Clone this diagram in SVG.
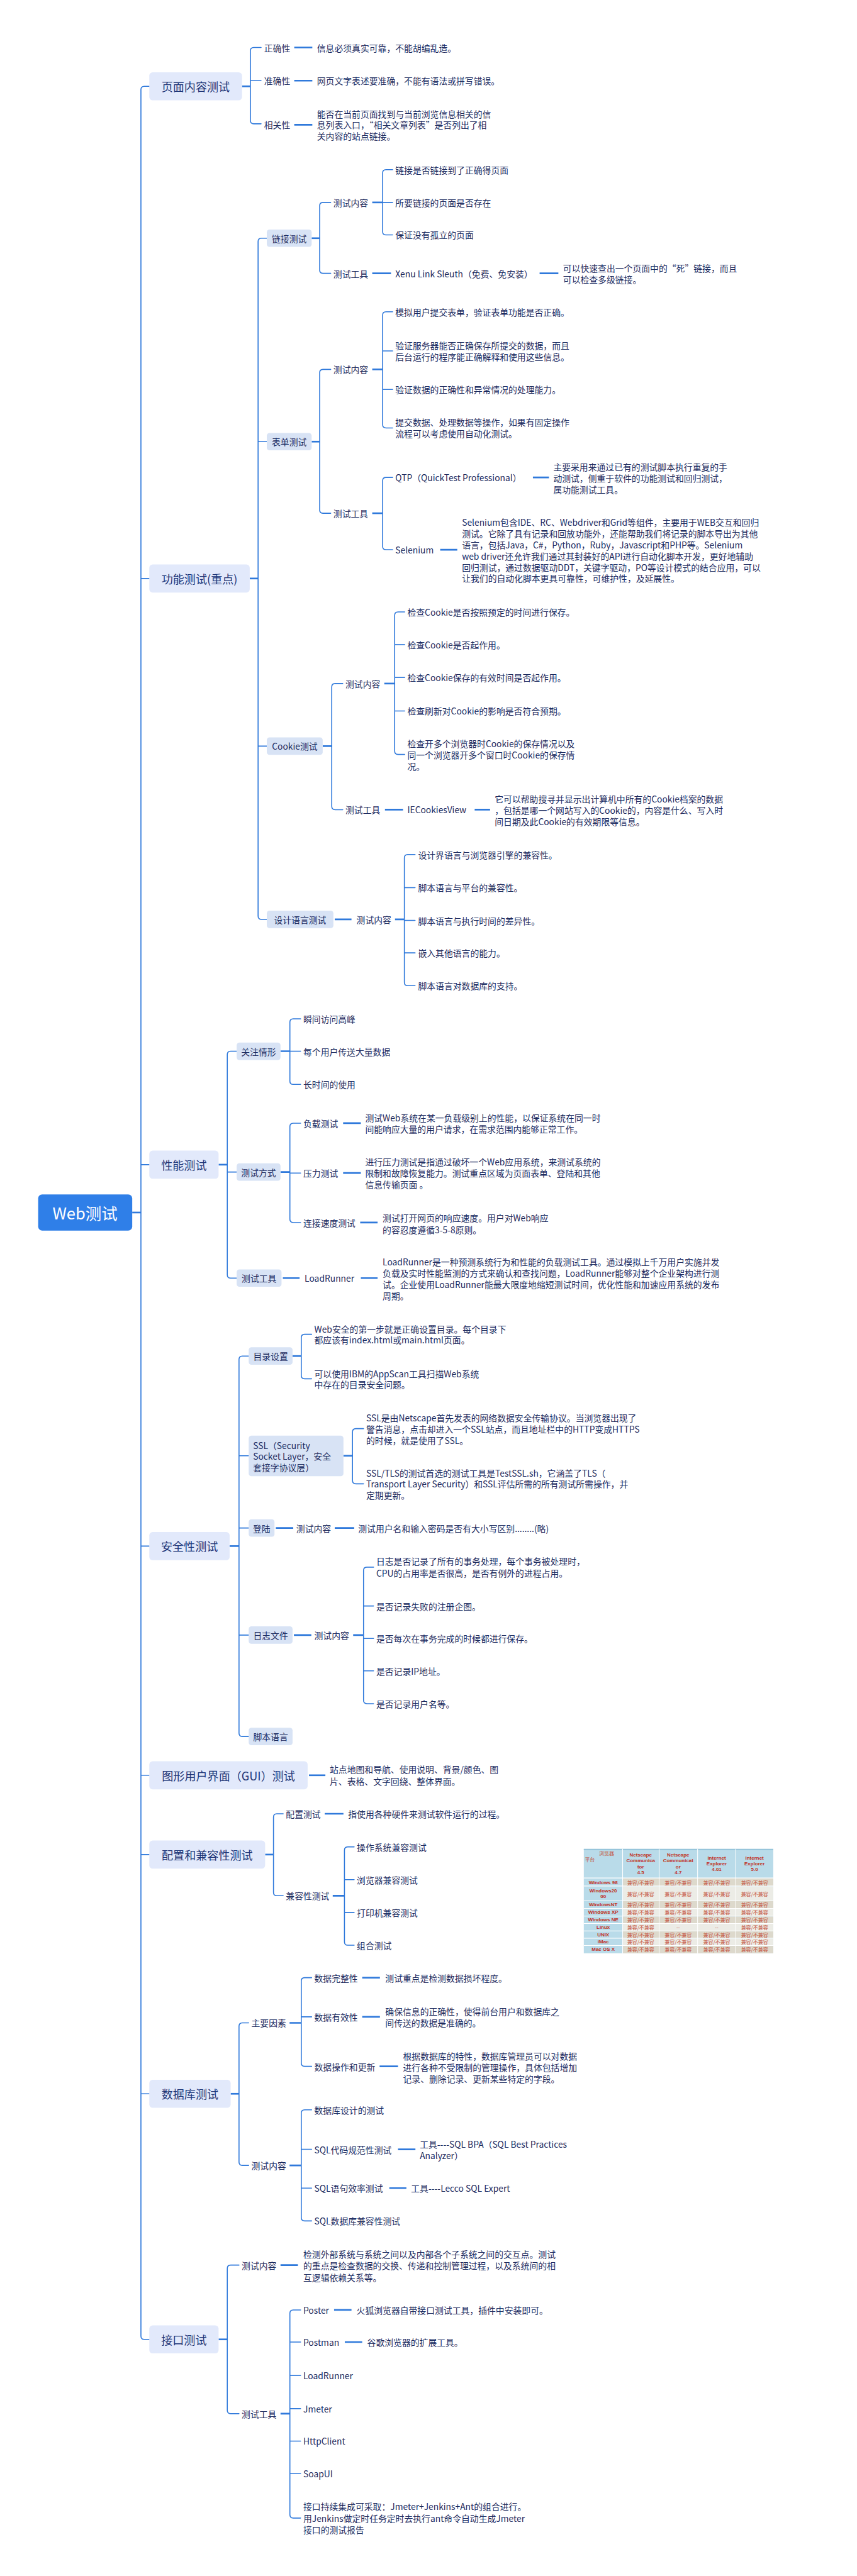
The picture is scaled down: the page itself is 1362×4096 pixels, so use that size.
<svg xmlns="http://www.w3.org/2000/svg" width="1362" height="4096" viewBox="0 0 1362 4096">
<style>
.ln{fill:none;stroke:#2f79db;stroke-width:3;stroke-linecap:round}
.st{fill:none;stroke:#2f79db;stroke-width:5}
.t{font-family:"Noto Sans CJK SC","Noto Sans",sans-serif;font-size:26px;fill:#1b2a5e;dominant-baseline:central}
.t1{font-family:"Noto Sans CJK SC","Noto Sans",sans-serif;font-size:34px;fill:#1d3577;dominant-baseline:central;text-anchor:middle}
.t2{font-family:"Noto Sans CJK SC","Noto Sans",sans-serif;font-size:26px;fill:#1b2a5e;dominant-baseline:central;text-anchor:middle}
.b1{fill:#e2e9fb}
.b2{fill:#d8e3f5}
.tb{font-family:"Liberation Sans","Noto Sans CJK SC",sans-serif;font-size:15px;font-weight:bold;fill:#c0301e;text-anchor:middle;dominant-baseline:central}
.tc{font-family:"Noto Sans CJK SC",sans-serif;font-size:15px;fill:#c4503a;text-anchor:middle;dominant-baseline:central}
</style>
<rect width="1362" height="4096" fill="#ffffff"/>
<g transform="scale(0.532)">
<g id="connectors">
<path class="st" d="M395,3624 H421"/>
<path class="ln" d="M421,268 V6982 M421,268 Q421,258 431,258 H446 M421,1729 H446 M421,3481 H446 M421,4621 H446 M421,5306 H446 M421,5543 H446 M421,6258 H446 M421,6982 Q421,6992 431,6992 H446"/>
<!-- page content -->
<path class="st" d="M723,258 H748"/>
<path class="ln" d="M748,152 V360 M748,152 Q748,142 758,142 H780 M748,241 H780 M748,360 Q748,370 758,370 H780"/>
<path class="st" d="M879,142 H933 M879,241 H933 M879,373 H933"/>
<!-- function -->
<path class="st" d="M746,1729 H771"/>
<path class="ln" d="M771,722 V2738 M771,722 Q771,712 781,712 H797 M771,1320 H797 M771,2230 H797 M771,2738 Q771,2748 781,2748 H797"/>
<path class="st" d="M931,712 H955"/>
<path class="ln" d="M955,615 V807 M955,615 Q955,605 965,605 H988 M955,807 Q955,817 965,817 H988"/>
<path class="st" d="M1112,605 H1143"/>
<path class="ln" d="M1143,517 V692 M1143,517 Q1143,507 1153,507 H1173 M1143,605 H1173 M1143,692 Q1143,702 1153,702 H1173"/>
<path class="st" d="M1112,817 H1168 M1612,817 H1668"/>
<path class="st" d="M931,1320 H955"/>
<path class="ln" d="M955,1114 V1524 M955,1114 Q955,1104 965,1104 H988 M955,1524 Q955,1534 965,1534 H988"/>
<path class="st" d="M1112,1104 H1143"/>
<path class="ln" d="M1143,942 V1269 M1143,942 Q1143,932 1153,932 H1173 M1143,1049 H1173 M1143,1164 H1173 M1143,1269 Q1143,1279 1153,1279 H1173"/>
<path class="st" d="M1112,1534 H1143"/>
<path class="ln" d="M1143,1437 V1633 M1143,1437 Q1143,1427 1153,1427 H1173 M1143,1633 Q1143,1643 1153,1643 H1173"/>
<path class="st" d="M1592,1427 H1640 M1315,1643 H1366"/>
<path class="st" d="M964,2230 H991"/>
<path class="ln" d="M991,2053 V2410 M991,2053 Q991,2043 1001,2043 H1024 M991,2410 Q991,2420 1001,2420 H1024"/>
<path class="st" d="M1148,2043 H1179"/>
<path class="ln" d="M1179,1839 V2245 M1179,1839 Q1179,1829 1189,1829 H1209 M1179,1927 H1209 M1179,2025 H1209 M1179,2125 H1209 M1179,2245 Q1179,2255 1189,2255 H1209"/>
<path class="st" d="M1150,2420 H1204 M1418,2420 H1464"/>
<path class="st" d="M1000,2748 H1050 M1180,2748 H1208"/>
<path class="ln" d="M1208,2564 V2936 M1208,2564 Q1208,2554 1218,2554 H1240 M1208,2653 H1240 M1208,2751 H1240 M1208,2848 H1240 M1208,2936 Q1208,2946 1218,2946 H1240"/>
<!-- performance -->
<path class="st" d="M653,3481 H679"/>
<path class="ln" d="M679,3152 V3810 M679,3152 Q679,3142 689,3142 H707 M679,3503 H707 M679,3810 Q679,3820 689,3820 H707"/>
<path class="st" d="M838,3142 H866 M838,3503 H866"/>
<path class="ln" d="M866,3055 V3231 M866,3055 Q866,3045 876,3045 H898 M866,3142 H898 M866,3231 Q866,3241 876,3241 H898"/>
<path class="ln" d="M866,3367 V3644 M866,3367 Q866,3357 876,3357 H898 M866,3506 H898 M866,3644 Q866,3654 876,3654 H898"/>
<path class="st" d="M1025,3357 H1078 M1025,3506 H1078 M1076,3654 H1128"/>
<path class="st" d="M845,3820 H895 M1078,3820 H1128"/>
<!-- security -->
<path class="st" d="M686,4621 H714"/>
<path class="ln" d="M714,4063 V5180 M714,4063 Q714,4053 724,4053 H743 M714,4351 H743 M714,4567 H743 M714,4887 H743 M714,5180 Q714,5190 724,5190 H743"/>
<path class="st" d="M874,4053 H900"/>
<path class="ln" d="M900,3998 V4111 M900,3998 Q900,3988 910,3988 H931 M900,4111 Q900,4121 910,4121 H931"/>
<path class="st" d="M1026,4351 H1053"/>
<path class="ln" d="M1053,4280 V4425 M1053,4280 Q1053,4270 1063,4270 H1086 M1053,4425 Q1053,4435 1063,4435 H1086"/>
<path class="st" d="M824,4567 H876 M1000,4567 H1058"/>
<path class="st" d="M878,4887 H930 M1055,4887 H1086"/>
<path class="ln" d="M1086,4694 V5082 M1086,4694 Q1086,4684 1096,4684 H1116 M1086,4800 H1116 M1086,4897 H1116 M1086,4994 H1116 M1086,5082 Q1086,5092 1096,5092 H1116"/>
<!-- GUI -->
<path class="st" d="M923,5306 H972"/>
<!-- config -->
<path class="st" d="M792,5543 H817"/>
<path class="ln" d="M817,5431 V5656 M817,5431 Q817,5421 827,5421 H846 M817,5656 Q817,5666 827,5666 H846"/>
<path class="st" d="M970,5421 H1026 M994,5666 H1029"/>
<path class="ln" d="M1029,5530 V5804 M1029,5530 Q1029,5520 1039,5520 H1058 M1029,5618 H1058 M1029,5716 H1058 M1029,5804 Q1029,5814 1039,5814 H1058"/>
<!-- database -->
<path class="st" d="M689,6258 H714"/>
<path class="ln" d="M714,6056 V6462 M714,6056 Q714,6046 724,6046 H743 M714,6462 Q714,6472 724,6472 H743"/>
<path class="st" d="M865,6046 H900 M865,6472 H900"/>
<path class="ln" d="M900,5921 V6166 M900,5921 Q900,5911 910,5911 H931 M900,6028 H931 M900,6166 Q900,6176 910,6176 H931"/>
<path class="st" d="M1082,5911 H1135 M1082,6028 H1135 M1134,6176 H1189"/>
<path class="ln" d="M900,6316 V6628 M900,6316 Q900,6306 910,6306 H931 M900,6424 H931 M900,6540 H931 M900,6628 Q900,6638 910,6638 H931"/>
<path class="st" d="M1189,6424 H1241 M1163,6540 H1214"/>
<!-- interface -->
<path class="st" d="M653,6992 H679"/>
<path class="ln" d="M679,6780 V7204 M679,6780 Q679,6770 689,6770 H714 M679,7204 Q679,7214 689,7214 H714"/>
<path class="st" d="M838,6770 H890 M838,7214 H866"/>
<path class="ln" d="M866,6914 V7516 M866,6914 Q866,6904 876,6904 H898 M866,7000 H898 M866,7100 H898 M866,7199 H898 M866,7296 H898 M866,7393 H898 M866,7516 Q866,7526 876,7526 H898"/>
<path class="st" d="M998,6904 H1050 M1030,7000 H1082"/>
</g>

<g id="root"><rect x="114" y="3570" width="281" height="108" rx="12" fill="#2f7fe8"/><text x="254" y="3624" font-family="Noto Sans CJK SC,sans-serif" font-size="48" fill="#ffffff" text-anchor="middle" dominant-baseline="central">Web测试</text></g>

<!-- 页面内容测试 -->
<g id="n-page"><rect class="b1" x="446" y="216" width="277" height="84" rx="10"/><text class="t1" x="584.5" y="258">页面内容测试</text></g>
<g id="n-page-1"><text class="t" x="789" y="142">正确性</text><text class="t" x="947" y="142">信息必须真实可靠，不能胡编乱造。</text></g>
<g id="n-page-2"><text class="t" x="789" y="241">准确性</text><text class="t" x="947" y="241">网页文字表述要准确，不能有语法或拼写错误。</text></g>
<g id="n-page-3"><text class="t" x="789" y="373">相关性</text><text class="t" x="947" y="340">能否在当前页面找到与当前浏览信息相关的信</text><text class="t" x="947" y="373">息列表入口，“相关文章列表”是否列出了相</text><text class="t" x="947" y="406">关内容的站点链接。</text></g>

<!-- 功能测试 -->
<g id="n-func"><rect class="b1" x="446" y="1687" width="300" height="84" rx="10"/><text class="t1" x="596" y="1729">功能测试(重点)</text></g>
<g id="n-link"><rect class="b2" x="797" y="686" width="134" height="52" rx="8"/><text class="t2" x="864" y="712">链接测试</text></g>
<g id="n-link-c"><text class="t" x="996" y="605">测试内容</text>
<text class="t" x="1181" y="507">链接是否链接到了正确得页面</text>
<text class="t" x="1181" y="605">所要链接的页面是否存在</text>
<text class="t" x="1181" y="702">保证没有孤立的页面</text></g>
<g id="n-link-t"><text class="t" x="996" y="817">测试工具</text>
<text class="t" x="1181" y="817">Xenu Link Sleuth（免费、免安装）</text>
<text class="t" x="1682" y="800">可以快速查出一个页面中的“死”链接，而且</text>
<text class="t" x="1682" y="834">可以检查多级链接。</text></g>

<g id="n-form"><rect class="b2" x="797" y="1294" width="134" height="52" rx="8"/><text class="t2" x="864" y="1320">表单测试</text></g>
<g id="n-form-c"><text class="t" x="996" y="1104">测试内容</text>
<text class="t" x="1181" y="932">模拟用户提交表单，验证表单功能是否正确。</text>
<text class="t" x="1181" y="1032">验证服务器能否正确保存所提交的数据，而且</text>
<text class="t" x="1181" y="1066">后台运行的程序能正确解释和使用这些信息。</text>
<text class="t" x="1181" y="1164">验证数据的正确性和异常情况的处理能力。</text>
<text class="t" x="1181" y="1262">提交数据、处理数据等操作，如果有固定操作</text>
<text class="t" x="1181" y="1296">流程可以考虑使用自动化测试。</text></g>
<g id="n-form-t"><text class="t" x="996" y="1534">测试工具</text>
<text class="t" x="1181" y="1427">QTP（QuickTest Professional）</text>
<text class="t" x="1653" y="1395">主要采用来通过已有的测试脚本执行重复的手</text>
<text class="t" x="1653" y="1429">动测试，侧重于软件的功能测试和回归测试，</text>
<text class="t" x="1653" y="1462">属功能测试工具。</text>
<text class="t" x="1181" y="1643">Selenium</text>
<text class="t" x="1380" y="1561">Selenium包含IDE、RC、Webdriver和Grid等组件，主要用于WEB交互和回归</text>
<text class="t" x="1380" y="1594">测试。它除了具有记录和回放功能外，还能帮助我们将记录的脚本导出为其他</text>
<text class="t" x="1380" y="1628">语言，包括Java，C#，Python，Ruby，Javascript和PHP等。Selenium</text>
<text class="t" x="1380" y="1661">web driver还允许我们通过其封装好的API进行自动化脚本开发，更好地辅助</text>
<text class="t" x="1380" y="1695">回归测试，通过数据驱动DDT，关键字驱动，PO等设计模式的结合应用，可以</text>
<text class="t" x="1380" y="1728">让我们的自动化脚本更具可靠性，可维护性，及延展性。</text></g>

<g id="n-cookie"><rect class="b2" x="797" y="2204" width="167" height="52" rx="8"/><text class="t2" x="880.5" y="2230">Cookie测试</text></g>
<g id="n-cookie-c"><text class="t" x="1032" y="2043">测试内容</text>
<text class="t" x="1217" y="1829">检查Cookie是否按照预定的时间进行保存。</text>
<text class="t" x="1217" y="1927">检查Cookie是否起作用。</text>
<text class="t" x="1217" y="2025">检查Cookie保存的有效时间是否起作用。</text>
<text class="t" x="1217" y="2125">检查刷新对Cookie的影响是否符合预期。</text>
<text class="t" x="1217" y="2221">检查开多个浏览器时Cookie的保存情况以及</text>
<text class="t" x="1217" y="2255">同一个浏览器开多个窗口时Cookie的保存情</text>
<text class="t" x="1217" y="2289">况。</text></g>
<g id="n-cookie-t"><text class="t" x="1032" y="2420">测试工具</text>
<text class="t" x="1217" y="2420">IECookiesView</text>
<text class="t" x="1478" y="2388">它可以帮助搜寻并显示出计算机中所有的Cookie档案的数据</text>
<text class="t" x="1478" y="2421">，包括是哪一个网站写入的Cookie的，内容是什么、写入时</text>
<text class="t" x="1478" y="2455">间日期及此Cookie的有效期限等信息。</text></g>

<g id="n-lang"><rect class="b2" x="797" y="2722" width="199" height="52" rx="8"/><text class="t2" x="896.5" y="2748">设计语言测试</text></g>
<g id="n-lang-c"><text class="t" x="1065" y="2748">测试内容</text>
<text class="t" x="1249" y="2554">设计界语言与浏览器引擎的兼容性。</text>
<text class="t" x="1249" y="2653">脚本语言与平台的兼容性。</text>
<text class="t" x="1249" y="2751">脚本语言与执行时间的差异性。</text>
<text class="t" x="1249" y="2848">嵌入其他语言的能力。</text>
<text class="t" x="1249" y="2946">脚本语言对数据库的支持。</text></g>

<!-- 性能测试 -->
<g id="n-perf"><rect class="b1" x="446" y="3439" width="207" height="84" rx="10"/><text class="t1" x="549.5" y="3481">性能测试</text></g>
<g id="n-focus"><rect class="b2" x="707" y="3116" width="131" height="52" rx="8"/><text class="t2" x="772.5" y="3142">关注情形</text>
<text class="t" x="906" y="3045">瞬间访问高峰</text>
<text class="t" x="906" y="3142">每个用户传送大量数据</text>
<text class="t" x="906" y="3241">长时间的使用</text></g>
<g id="n-mode"><rect class="b2" x="707" y="3477" width="131" height="52" rx="8"/><text class="t2" x="772.5" y="3503">测试方式</text>
<text class="t" x="906" y="3357">负载测试</text>
<text class="t" x="1091" y="3341">测试Web系统在某一负载级别上的性能，以保证系统在同一时</text>
<text class="t" x="1091" y="3374">间能响应大量的用户请求，在需求范围内能够正常工作。</text>
<text class="t" x="906" y="3506">压力测试</text>
<text class="t" x="1091" y="3472">进行压力测试是指通过破坏一个Web应用系统，来测试系统的</text>
<text class="t" x="1091" y="3506">限制和故障恢复能力。测试重点区域为页面表单、登陆和其他</text>
<text class="t" x="1091" y="3540">信息传输页面 。</text>
<text class="t" x="906" y="3654">连接速度测试</text>
<text class="t" x="1143" y="3639">测试打开网页的响应速度。用户对Web响应</text>
<text class="t" x="1143" y="3674">的容忍度遵循3-5-8原则。</text></g>
<g id="n-perf-tool"><rect class="b2" x="707" y="3794" width="134" height="52" rx="8"/><text class="t2" x="774" y="3820">测试工具</text>
<text class="t" x="910" y="3820">LoadRunner</text>
<text class="t" x="1143" y="3770">LoadRunner是一种预测系统行为和性能的负载测试工具。通过模拟上千万用户实施并发</text>
<text class="t" x="1143" y="3805">负载及实时性能监测的方式来确认和查找问题，LoadRunner能够对整个企业架构进行测</text>
<text class="t" x="1143" y="3839">试。企业使用LoadRunner能最大限度地缩短测试时间，优化性能和加速应用系统的发布</text>
<text class="t" x="1143" y="3873">周期。</text></g>

<!-- 安全性测试 -->
<g id="n-sec"><rect class="b1" x="446" y="4579" width="240" height="84" rx="10"/><text class="t1" x="566" y="4621">安全性测试</text></g>
<g id="n-dir"><rect class="b2" x="743" y="4027" width="131" height="52" rx="8"/><text class="t2" x="808.5" y="4053">目录设置</text>
<text class="t" x="939" y="3971">Web安全的第一步就是正确设置目录。每个目录下</text>
<text class="t" x="939" y="4004">都应该有index.html或main.html页面。</text>
<text class="t" x="939" y="4105">可以使用IBM的AppScan工具扫描Web系统</text>
<text class="t" x="939" y="4138">中存在的目录安全问题。</text></g>
<g id="n-ssl"><rect class="b2" x="743" y="4291" width="283" height="121" rx="8"/>
<text class="t" x="756" y="4319">SSL（Security</text>
<text class="t" x="756" y="4352">Socket Layer，安全</text>
<text class="t" x="756" y="4385">套接字协议层）</text>
<text class="t" x="1094" y="4236">SSL是由Netscape首先发表的网络数据安全传输协议。当浏览器出现了</text>
<text class="t" x="1094" y="4270">警告消息，点击却进入一个SSL站点，而且地址栏中的HTTP变成HTTPS</text>
<text class="t" x="1094" y="4304">的时候，就是使用了SSL。</text>
<text class="t" x="1094" y="4402">SSL/TLS的测试首选的测试工具是TestSSL.sh，它涵盖了TLS（</text>
<text class="t" x="1094" y="4435">Transport Layer Security）和SSL评估所需的所有测试所需操作，并</text>
<text class="t" x="1094" y="4468">定期更新。</text></g>
<g id="n-login"><rect class="b2" x="743" y="4541" width="77" height="52" rx="8"/><text class="t2" x="781.5" y="4567">登陆</text>
<text class="t" x="885" y="4567">测试内容</text>
<text class="t" x="1070" y="4567">测试用户名和输入密码是否有大小写区别........(略)</text></g>
<g id="n-log"><rect class="b2" x="743" y="4861" width="131" height="52" rx="8"/><text class="t2" x="808.5" y="4887">日志文件</text>
<text class="t" x="939" y="4887">测试内容</text>
<text class="t" x="1124" y="4666">日志是否记录了所有的事务处理，每个事务被处理时，</text>
<text class="t" x="1124" y="4701">CPU的占用率是否很高，是否有例外的进程占用。</text>
<text class="t" x="1124" y="4800">是否记录失败的注册企图。</text>
<text class="t" x="1124" y="4897">是否每次在事务完成的时候都进行保存。</text>
<text class="t" x="1124" y="4994">是否记录IP地址。</text>
<text class="t" x="1124" y="5092">是否记录用户名等。</text></g>
<g id="n-script"><rect class="b2" x="743" y="5164" width="131" height="52" rx="8"/><text class="t2" x="808.5" y="5190">脚本语言</text></g>

<!-- GUI -->
<g id="n-gui"><rect class="b1" x="446" y="5264" width="473" height="84" rx="10"/><text class="t1" x="682.5" y="5306">图形用户界面（GUI）测试</text>
<text class="t" x="985" y="5288">站点地图和导航、使用说明、背景/颜色、图</text>
<text class="t" x="985" y="5324">片、表格、文字回绕、整体界面。</text></g>

<!-- 配置和兼容性测试 -->
<g id="n-cfg"><rect class="b1" x="446" y="5501" width="346" height="84" rx="10"/><text class="t1" x="619" y="5543">配置和兼容性测试</text></g>
<g id="n-cfg-c"><text class="t" x="854" y="5421">配置测试</text><text class="t" x="1040" y="5421">指使用各种硬件来测试软件运行的过程。</text>
<text class="t" x="854" y="5666">兼容性测试</text>
<text class="t" x="1066" y="5520">操作系统兼容测试</text>
<text class="t" x="1066" y="5618">浏览器兼容测试</text>
<text class="t" x="1066" y="5716">打印机兼容测试</text>
<text class="t" x="1066" y="5814">组合测试</text></g>

<g id="compat-table">
<rect x="1744" y="5526" width="566" height="312" fill="#b9dbe9"/>
<rect x="1744" y="5526" width="566" height="3" fill="#8fc0d8"/>
<g fill="#ddd9cc">
<rect x="1861" y="5614" width="449" height="23"/>
<rect x="1861" y="5682" width="449" height="22"/>
<rect x="1861" y="5728" width="449" height="21"/>
<rect x="1861" y="5772" width="449" height="21"/>
<rect x="1861" y="5816" width="449" height="22"/>
</g>
<g fill="#ecece6">
<rect x="1861" y="5638" width="449" height="43"/>
<rect x="1861" y="5705" width="449" height="22"/>
<rect x="1861" y="5750" width="449" height="21"/>
<rect x="1861" y="5794" width="449" height="21"/>
</g>
<g stroke="#ffffff" stroke-width="2">
<path d="M1860,5526 V5838 M1969,5526 V5838 M2084,5526 V5838 M2198,5526 V5838"/>
<path d="M1744,5613 H2310 M1744,5637 H2310 M1744,5681 H2310 M1744,5704 H2310 M1744,5727 H2310 M1744,5749 H2310 M1744,5771 H2310 M1744,5793 H2310 M1744,5815 H2310"/>
</g>
<text class="tc" x="1812" y="5538" fill="#c0301e">浏览器</text>
<text class="tc" x="1762" y="5558" fill="#c0301e">平台</text>
<text class="tb" x="1914" y="5545">Netscape</text><text class="tb" x="1914" y="5562">Communica</text><text class="tb" x="1914" y="5580">tor</text><text class="tb" x="1914" y="5597">4.5</text>
<text class="tb" x="2026" y="5545">Netscape</text><text class="tb" x="2026" y="5562">Communicat</text><text class="tb" x="2026" y="5580">or</text><text class="tb" x="2026" y="5597">4.7</text>
<text class="tb" x="2141" y="5553">Internet</text><text class="tb" x="2141" y="5571">Explorer</text><text class="tb" x="2141" y="5588">4.01</text>
<text class="tb" x="2254" y="5553">Internet</text><text class="tb" x="2254" y="5571">Explorer</text><text class="tb" x="2254" y="5588">5.0</text>
<text class="tb" x="1802" y="5626">Windows 98</text>
<text class="tb" x="1802" y="5651">Windows20</text><text class="tb" x="1802" y="5668">00</text>
<text class="tb" x="1802" y="5693">WindowsNT</text>
<text class="tb" x="1802" y="5716">Windows XP</text>
<text class="tb" x="1802" y="5738">Windows NE</text>
<text class="tb" x="1802" y="5760">Linux</text>
<text class="tb" x="1802" y="5782">UNIX</text>
<text class="tb" x="1802" y="5804">iMac</text>
<text class="tb" x="1802" y="5827">Mac OS X</text>
<g>
<text class="tc" x="1914" y="5626">兼容/不兼容</text><text class="tc" x="2026" y="5626">兼容/不兼容</text><text class="tc" x="2141" y="5626">兼容/不兼容</text><text class="tc" x="2254" y="5626">兼容/不兼容</text>
<text class="tc" x="1914" y="5660">兼容/不兼容</text><text class="tc" x="2026" y="5660">兼容/不兼容</text><text class="tc" x="2141" y="5660">兼容/不兼容</text><text class="tc" x="2254" y="5660">兼容/不兼容</text>
<text class="tc" x="1914" y="5693">兼容/不兼容</text><text class="tc" x="2026" y="5693">兼容/不兼容</text><text class="tc" x="2141" y="5693">兼容/不兼容</text><text class="tc" x="2254" y="5693">兼容/不兼容</text>
<text class="tc" x="1914" y="5716">兼容/不兼容</text><text class="tc" x="2026" y="5716">兼容/不兼容</text><text class="tc" x="2141" y="5716">兼容/不兼容</text><text class="tc" x="2254" y="5716">兼容/不兼容</text>
<text class="tc" x="1914" y="5738">兼容/不兼容</text><text class="tc" x="2026" y="5738">兼容/不兼容</text><text class="tc" x="2141" y="5738">兼容/不兼容</text><text class="tc" x="2254" y="5738">兼容/不兼容</text>
<text class="tc" x="1914" y="5760">兼容/不兼容</text><text class="tc" x="2026" y="5760">--</text><text class="tc" x="2141" y="5760">--</text><text class="tc" x="2254" y="5760">兼容/不兼容</text>
<text class="tc" x="1914" y="5782">兼容/不兼容</text><text class="tc" x="2026" y="5782">兼容/不兼容</text><text class="tc" x="2141" y="5782">兼容/不兼容</text><text class="tc" x="2254" y="5782">兼容/不兼容</text>
<text class="tc" x="1914" y="5804">兼容/不兼容</text><text class="tc" x="2026" y="5804">兼容/不兼容</text><text class="tc" x="2141" y="5804">兼容/不兼容</text><text class="tc" x="2254" y="5804">兼容/不兼容</text>
<text class="tc" x="1914" y="5827">兼容/不兼容</text><text class="tc" x="2026" y="5827">兼容/不兼容</text><text class="tc" x="2141" y="5827">兼容/不兼容</text><text class="tc" x="2254" y="5827">兼容/不兼容</text>
</g>
</g>

<!-- 数据库测试 -->
<g id="n-db"><rect class="b1" x="446" y="6216" width="243" height="84" rx="10"/><text class="t1" x="567.5" y="6258">数据库测试</text></g>
<g id="n-db-main"><text class="t" x="751" y="6046">主要因素</text>
<text class="t" x="939" y="5911">数据完整性</text><text class="t" x="1151" y="5911">测试重点是检测数据损坏程度。</text>
<text class="t" x="939" y="6028">数据有效性</text><text class="t" x="1151" y="6012">确保信息的正确性，使得前台用户和数据库之</text><text class="t" x="1151" y="6045">间传送的数据是准确的。</text>
<text class="t" x="939" y="6176">数据操作和更新</text><text class="t" x="1204" y="6144">根据数据库的特性，数据库管理员可以对数据</text><text class="t" x="1204" y="6178">进行各种不受限制的管理操作，具体包括增加</text><text class="t" x="1204" y="6212">记录、删除记录、更新某些特定的字段。</text></g>
<g id="n-db-c"><text class="t" x="751" y="6472">测试内容</text>
<text class="t" x="939" y="6306">数据库设计的测试</text>
<text class="t" x="939" y="6424">SQL代码规范性测试</text><text class="t" x="1254" y="6408">工具----SQL BPA（SQL Best Practices</text><text class="t" x="1254" y="6442">Analyzer）</text>
<text class="t" x="939" y="6540">SQL语句效率测试</text><text class="t" x="1228" y="6540">工具----Lecco SQL Expert</text>
<text class="t" x="939" y="6638">SQL数据库兼容性测试</text></g>

<!-- 接口测试 -->
<g id="n-api"><rect class="b1" x="446" y="6950" width="207" height="84" rx="10"/><text class="t1" x="549.5" y="6992">接口测试</text></g>
<g id="n-api-c"><text class="t" x="722" y="6770">测试内容</text>
<text class="t" x="906" y="6737">检测外部系统与系统之间以及内部各个子系统之间的交互点。测试</text>
<text class="t" x="906" y="6771">的重点是检查数据的交换、传递和控制管理过程，以及系统间的相</text>
<text class="t" x="906" y="6806">互逻辑依赖关系等。</text></g>
<g id="n-api-t"><text class="t" x="722" y="7214">测试工具</text>
<text class="t" x="906" y="6904">Poster</text><text class="t" x="1065" y="6904">火狐浏览器自带接口测试工具，插件中安装即可。</text>
<text class="t" x="906" y="7000">Postman</text><text class="t" x="1097" y="7000">谷歌浏览器的扩展工具。</text>
<text class="t" x="906" y="7100">LoadRunner</text>
<text class="t" x="906" y="7199">Jmeter</text>
<text class="t" x="906" y="7296">HttpClient</text>
<text class="t" x="906" y="7393">SoapUI</text>
<text class="t" x="906" y="7491">接口持续集成可采取：Jmeter+Jenkins+Ant的组合进行。</text>
<text class="t" x="906" y="7526">用Jenkins做定时任务定时去执行ant命令自动生成Jmeter</text>
<text class="t" x="906" y="7560">接口的测试报告</text></g>
</g>
</svg>
